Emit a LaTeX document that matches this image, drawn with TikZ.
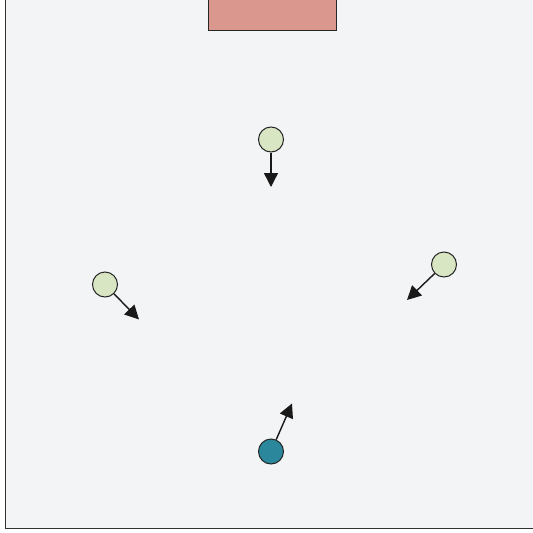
\documentclass[tikz,border=0pt]{standalone}
\usetikzlibrary{arrows.meta}
\definecolor{bgc}{HTML}{F3F4F6}
\definecolor{framec}{HTML}{333333}
\definecolor{goalc}{HTML}{D9978E}
\definecolor{greenc}{HTML}{D8E6C3}
\definecolor{tealc}{HTML}{2A879C}
\tikzset{
  player/.style={circle,draw=black!85,line width=1pt,minimum size=25pt,inner sep=0pt,fill=greenc},
  mover/.style={line width=1.4pt,black!90,-{Triangle[length=14pt,width=14pt]}},
}
\begin{document}
\begin{tikzpicture}[x=1pt,y=1pt]
\useasboundingbox (0,0) rectangle (533,-533);
\clip (0,0) rectangle (533,-533);
\fill[white] (0,0) rectangle (533,-533);
\draw[framec,fill=bgc,line width=1pt] (5.5,0.5) rectangle (560,-528);
\node[draw=black!85,line width=1pt,fill=goalc,minimum width=128pt,minimum height=31pt,inner sep=0pt,anchor=north west] (goal) at (207.5,1) {};
\node[player] (p1) at (271,-139.5) {};
\node[player] (p2) at (105,-284.5) {};
\node[player] (p3) at (444,-264.5) {};
\node[player,fill=tealc] (p4) at (271,-451.5) {};
\coordinate (t1) at (271,-187);
\coordinate (t2) at (139,-319.5);
\coordinate (t3) at (407,-300);
\coordinate (t4) at (292,-403.5);
\draw[mover] (p1) -- (t1);
\draw[mover] (p2) -- (t2);
\draw[mover] (p3) -- (t3);
\draw[mover] (p4) -- (t4);
\end{tikzpicture}
\end{document}
